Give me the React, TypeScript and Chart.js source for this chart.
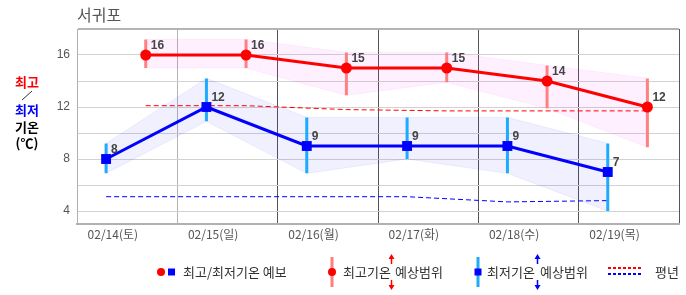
import React, { useEffect, useRef } from 'react';
import { Chart, registerables } from 'chart.js';

Chart.register(...registerables);

const titleText = '서귀포';
const dayLabels = ['02/14(토)', '02/15(일)', '02/16(월)', '02/17(화)', '02/18(수)', '02/19(목)'];
const maxTemps = [16, 16, 15, 15, 14, 12];
const minTemps = [8, 12, 9, 9, 9, 7];
const maxRangeHigh = [17.2, 17.2, 16.2, 16.2, 15.2, 14.2];
const maxRangeLow = [15, 15, 12.9, 13.9, 11.9, 8.9];
const minRangeHigh = [9.2, 14.2, 11.2, 11.2, 11.2, 9.2];
const minRangeLow = [6.9, 10.9, 6.9, 8, 6.9, 4];
const normalMax = [12.1, 12.1, 11.8, 11.7, 11.7, 11.7];
const normalMin = [5.1, 5.1, 5.1, 5.1, 4.7, 4.8];
const yGridTicks = [4, 6, 8, 10, 12, 14, 16, 18];
const yLabelTicks = [4, 8, 12, 16];

// time-of-day offsets within a day column (fraction of a day)
const MIN_T = 0.29;
const MAX_T = 0.685;
const LABEL_T = 0.357;

const FONT = 'Arial, "Liberation Sans", "Noto Sans CJK KR", sans-serif';
const KFONT = '"Noto Sans CJK KR", "Liberation Sans", sans-serif';

const RED = '#ff0000';
const BLUE = '#0000ff';
const MAX_BAR = 'rgb(255,128,128)';
const MIN_BAR = 'rgb(30,170,255)';

const pts = (vals: number[], off: number) => vals.map((v, i) => ({ x: i + off, y: v }));
const bars = (hi: number[], lo: number[], off: number) =>
  hi.flatMap((h, i) => [
    { x: i + off, y: lo[i] },
    { x: i + off, y: h },
    { x: i + off, y: null as any },
  ]);

const RED_IDX = 8;
const BLUE_IDX = 9;

const labelPlugin = {
  id: 'pointLabels',
  afterDatasetsDraw(chart: any) {
    const ctx = chart.ctx;
    ctx.save();
    ctx.font = 'bold 12px ' + FONT;
    ctx.fillStyle = '#444';
    ctx.textAlign = 'left';
    ctx.textBaseline = 'middle';
    [RED_IDX, BLUE_IDX].forEach((idx) => {
      const meta = chart.getDatasetMeta(idx);
      const ds = chart.data.datasets[idx].data as any[];
      meta.data.forEach((pt: any, i: number) => {
        ctx.fillText(String(ds[i].y), pt.x + 5, pt.y - 9);
      });
    });
    ctx.restore();
  },
};

function arrow(ctx: CanvasRenderingContext2D, x: number, y1: number, y2: number, color: string) {
  ctx.strokeStyle = color;
  ctx.fillStyle = color;
  ctx.lineWidth = 1.5;
  ctx.beginPath();
  ctx.moveTo(x, y1);
  ctx.lineTo(x, y2);
  ctx.stroke();
  const dir = y2 < y1 ? -1 : 1;
  ctx.beginPath();
  ctx.moveTo(x, y2 + dir * 2);
  ctx.lineTo(x - 3, y2 - dir * 3);
  ctx.lineTo(x + 3, y2 - dir * 3);
  ctx.closePath();
  ctx.fill();
}

const decoPlugin = {
  id: 'deco',
  afterDraw(chart: any) {
    const ctx: CanvasRenderingContext2D = chart.ctx;
    ctx.save();
    // title
    ctx.font = '16px ' + KFONT;
    ctx.fillStyle = '#555';
    ctx.textAlign = 'left';
    ctx.textBaseline = 'middle';
    ctx.fillText(titleText, 77, 15);

    // left axis label
    ctx.textAlign = 'center';
    ctx.font = 'bold 13px ' + KFONT;
    ctx.fillStyle = RED;
    ctx.fillText('최고', 27, 82);
    ctx.strokeStyle = '#333';
    ctx.lineWidth = 1;
    ctx.beginPath();
    ctx.moveTo(22, 100);
    ctx.lineTo(32, 91);
    ctx.stroke();
    ctx.fillStyle = BLUE;
    ctx.fillText('최저', 27, 110);
    ctx.fillStyle = '#000';
    ctx.fillText('기온', 27, 127);
    ctx.fillText('(℃)', 27, 143);

    // legend
    const ly = 272;
    ctx.textAlign = 'left';
    ctx.font = '13px ' + KFONT;
    // item 1
    ctx.fillStyle = RED;
    ctx.beginPath();
    ctx.arc(161, ly, 4, 0, Math.PI * 2);
    ctx.fill();
    ctx.fillStyle = BLUE;
    ctx.fillRect(168, ly - 3.5, 7, 7);
    ctx.fillStyle = '#333';
    ctx.fillText('최고/최저기온 예보', 183, ly);

    // item 2
    ctx.fillStyle = MAX_BAR;
    ctx.fillRect(330.5, 257, 3, 30);
    ctx.fillStyle = RED;
    ctx.beginPath();
    ctx.arc(332, ly, 4, 0, Math.PI * 2);
    ctx.fill();
    ctx.fillStyle = '#333';
    ctx.fillText('최고기온', 343, ly);
    ctx.fillText('예상범위', 395, ly);
    arrow(ctx, 391.5, 264, 256, RED);
    arrow(ctx, 391.5, 280, 288, RED);

    // item 3
    ctx.fillStyle = MIN_BAR;
    ctx.fillRect(476.5, 257, 3, 30);
    ctx.fillStyle = BLUE;
    ctx.fillRect(474.5, ly - 3.5, 7, 7);
    ctx.fillStyle = '#333';
    ctx.fillText('최저기온', 487, ly);
    ctx.fillText('예상범위', 540, ly);
    arrow(ctx, 537.5, 264, 256, BLUE);
    arrow(ctx, 537.5, 280, 288, BLUE);

    // item 4
    ctx.lineWidth = 2;
    ctx.setLineDash([3, 2]);
    ctx.strokeStyle = RED;
    ctx.beginPath();
    ctx.moveTo(608, 268);
    ctx.lineTo(643, 268);
    ctx.stroke();
    ctx.strokeStyle = BLUE;
    ctx.beginPath();
    ctx.moveTo(608, 274);
    ctx.lineTo(643, 274);
    ctx.stroke();
    ctx.setLineDash([]);
    ctx.fillStyle = '#333';
    ctx.fillText('평년', 655, ly);
    ctx.restore();
  },
};

export default function App() {
  const ref = useRef<HTMLCanvasElement | null>(null);

  useEffect(() => {
    document.body.style.margin = '0';
    const canvas = ref.current;
    if (!canvas) return;
    const chart = new Chart(canvas, {
      type: 'line',
      data: {
        datasets: [
          {
            data: pts(maxRangeHigh, MAX_T),
            borderColor: 'rgba(255,0,255,0.07)',
            borderWidth: 1,
            backgroundColor: 'rgba(255,0,255,0.06)',
            pointRadius: 0,
            fill: '+1',
            order: 11,
          },
          {
            data: pts(maxRangeLow, MAX_T),
            borderColor: 'rgba(255,0,255,0.07)',
            borderWidth: 1,
            pointRadius: 0,
            fill: false,
            order: 12,
          },
          {
            data: pts(minRangeHigh, MIN_T),
            borderColor: 'rgba(0,0,255,0.07)',
            borderWidth: 1,
            backgroundColor: 'rgba(0,0,255,0.06)',
            pointRadius: 0,
            fill: '+1',
            order: 9,
          },
          {
            data: pts(minRangeLow, MIN_T),
            borderColor: 'rgba(0,0,255,0.07)',
            borderWidth: 1,
            pointRadius: 0,
            fill: false,
            order: 10,
          },
          {
            data: pts(normalMax, MAX_T),
            borderColor: RED,
            borderWidth: 1,
            borderDash: [5, 3],
            pointRadius: 0,
            fill: false,
            order: 7,
          },
          {
            data: pts(normalMin, MIN_T),
            borderColor: BLUE,
            borderWidth: 1,
            borderDash: [5, 3],
            pointRadius: 0,
            fill: false,
            order: 8,
          },
          {
            data: bars(maxRangeHigh, maxRangeLow, MAX_T),
            borderColor: MAX_BAR,
            borderWidth: 3,
            borderCapStyle: 'butt',
            pointRadius: 0,
            spanGaps: false,
            fill: false,
            order: 5,
          },
          {
            data: bars(minRangeHigh, minRangeLow, MIN_T),
            borderColor: MIN_BAR,
            borderWidth: 3,
            borderCapStyle: 'butt',
            pointRadius: 0,
            spanGaps: false,
            fill: false,
            order: 6,
          },
          {
            data: pts(maxTemps, MAX_T),
            borderColor: RED,
            backgroundColor: RED,
            borderWidth: 3,
            pointStyle: 'circle',
            pointRadius: 5.5,
            pointBorderWidth: 0,
            fill: false,
            order: 1,
          },
          {
            data: pts(minTemps, MIN_T),
            borderColor: BLUE,
            backgroundColor: BLUE,
            borderWidth: 3,
            pointStyle: 'rect',
            pointRadius: 7,
            pointBorderWidth: 0,
            fill: false,
            order: 2,
          },
        ] as any,
      },
      options: {
        animation: false,
        responsive: false,
        devicePixelRatio: 1,
        events: [],
        layout: { padding: { top: 29, right: 4, bottom: 0, left: 0 } },
        plugins: {
          legend: { display: false },
          tooltip: { enabled: false },
          title: { display: false },
        },
        scales: {
          x: {
            type: 'linear',
            min: 0,
            max: 6,
            afterBuildTicks: (s: any) => {
              const t: any[] = [];
              for (let i = 0; i <= 6; i++) {
                t.push({ value: i });
                if (i < 6) t.push({ value: i + LABEL_T });
              }
              s.ticks = t;
            },
            afterFit: (s: any) => {
              s.height = 71;
            },
            grid: {
              drawTicks: false,
              lineWidth: 1,
              color: (c: any) => {
                const v = c.tick ? c.tick.value : null;
                if (v == null || !Number.isInteger(v)) return 'rgba(0,0,0,0)';
                if (v === 0) return '#b0b0b0';
                if (v === 1) return '#b4b4b4';
                return '#555555';
              },
            },
            border: { color: '#b0b0b0', width: 2 },
            ticks: {
              autoSkip: false,
              maxRotation: 0,
              padding: 3,
              color: '#555',
              font: { size: 12, family: KFONT },
              callback: (value: any) => {
                const v = Number(value);
                if (Number.isInteger(v)) return '';
                return dayLabels[Math.floor(v)];
              },
            },
          },
          y: {
            min: 3,
            max: 18,
            afterBuildTicks: (s: any) => {
              s.ticks = yGridTicks.map((v) => ({ value: v }));
            },
            afterFit: (s: any) => {
              s.width = 77;
            },
            grid: {
              drawTicks: false,
              color: (c: any) => (c.tick && c.tick.value === 18 ? '#b4b4b4' : '#d2d2d2'),
              lineWidth: (c: any) => (c.tick && c.tick.value === 18 ? 2 : 1),
            },
            border: { color: '#b0b0b0', width: 1 },
            ticks: {
              padding: 7,
              color: '#555',
              font: { size: 12, family: FONT },
              callback: (value: any) => (yLabelTicks.includes(Number(value)) ? String(value) : ''),
            },
          },
        },
      } as any,
      plugins: [labelPlugin, decoPlugin],
    });
    return () => chart.destroy();
  }, []);

  return (
    <div style={{ width: 686, height: 295 }}>
      <canvas ref={ref} width={686} height={295} style={{ display: 'block' }} />
    </div>
  );
}
